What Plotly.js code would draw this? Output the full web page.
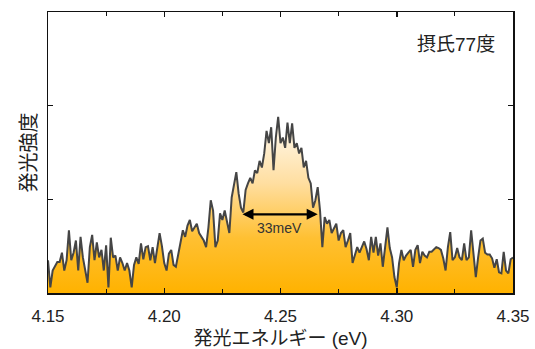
<!DOCTYPE html>
<html>
<head>
<meta charset="utf-8">
<script src="https://cdn.plot.ly/plotly-3.0.1.min.js"></script>
<style>html,body{margin:0;padding:0;background:#fff;}#chart{width:535px;height:349px;}</style>
</head>
<body>
<div id="chart"></div>
<script>
// Photon energy (eV), 1 meV steps from 4.150 to 4.350
const energyStart = 4.15;
const energyStep = 0.001;
// Emission intensity (arbitrary units)
const intensity = [
 0.35,0.06,0.24,0.28,0.33,0.33,0.43,0.24,0.35,0.67,
 0.35,0.43,0.56,0.24,0.60,0.38,0.24,0.11,0.49,0.62,
 0.35,0.54,0.38,0.46,0.24,0.51,0.06,0.59,0.38,0.40,
 0.24,0.38,0.32,0.24,0.32,0.24,0.06,0.30,0.38,0.31,
 0.53,0.36,0.49,0.50,0.35,0.49,0.32,0.49,0.64,0.50,
 0.32,0.24,0.42,0.46,0.30,0.28,0.40,0.55,0.67,0.60,
 0.72,0.78,0.66,0.70,0.74,0.64,0.60,0.56,0.49,0.70,
 0.99,0.88,0.49,0.56,0.85,0.78,0.88,0.74,0.64,1.02,
 1.17,1.29,1.06,0.91,0.86,1.10,1.17,1.23,1.17,1.31,
 1.28,1.41,1.34,1.49,1.73,1.60,1.77,1.31,1.66,1.88,
 1.60,1.66,1.55,1.82,1.60,1.81,1.55,1.60,1.49,1.55,
 1.34,1.41,1.23,1.17,0.91,0.99,1.13,0.88,0.49,0.81,
 0.74,0.78,0.64,0.70,0.74,0.56,0.64,0.67,0.49,0.56,
 0.64,0.32,0.40,0.49,0.43,0.49,0.55,0.47,0.35,0.60,
 0.43,0.60,0.40,0.53,0.28,0.49,0.70,0.48,0.38,0.17,
 0.06,0.32,0.46,0.35,0.40,0.43,0.46,0.28,0.46,0.51,
 0.32,0.44,0.40,0.38,0.44,0.44,0.46,0.49,0.48,0.46,
 0.37,0.24,0.49,0.65,0.35,0.38,0.48,0.38,0.35,0.53,
 0.35,0.38,0.67,0.38,0.17,0.38,0.56,0.58,0.43,0.41,
 0.41,0.37,0.27,0.36,0.22,0.21,0.44,0.24,0.21,0.36,
 0.38
];
const energy = intensity.map((_, i) => +(energyStart + i * energyStep).toFixed(3));

const xTickVals = [4.15, 4.20, 4.25, 4.30, 4.35];
const xTickText = ["4.15", "4.20", "4.25", "4.30", "4.35"];
const yTickVals = [1, 2];

// FWHM marker
const fwhmLeft = 4.233;
const fwhmRight = 4.266;
const fwhmLevel = 0.84;
const fwhmLabel = "33meV";
const tempLabel = "摂氏77度";

const FONT = "Liberation Sans, Arial, Noto Sans CJK JP, sans-serif";

const trace = {
  x: energy, y: intensity, type: 'scatter', mode: 'lines',
  line: {color: '#454545', width: 2},
  fill: 'tozeroy',
  fillgradient: {
    type: 'vertical', start: 0, stop: 1.95,
    colorscale: [[0, 'rgb(255,178,0)'], [0.3, 'rgb(255,192,50)'], [0.6, 'rgb(255,222,160)'], [1, 'rgb(255,255,255)']]
  },
  hoverinfo: 'skip'
};

const layout = {
  width: 535, height: 349,
  margin: {l: 48, r: 22, t: 12, b: 56},
  paper_bgcolor: '#fff', plot_bgcolor: '#fff',
  showlegend: false,
  font: {family: FONT, color: '#222'},
  xaxis: {
    range: [4.15, 4.35], tickmode: 'array', tickvals: xTickVals, ticktext: xTickText,
    ticks: 'inside', ticklen: 5, tickwidth: 1.5, tickcolor: '#111',
    minor: {dtick: 0.025, ticks: 'inside', ticklen: 4, tickwidth: 1.2, tickcolor: '#111'},
    showline: true, linecolor: '#111', linewidth: 1.5, mirror: 'allticks',
    showgrid: false, zeroline: false,
    ticklabelstandoff: 7,
    tickfont: {size: 17, family: FONT, color: '#222'},
    title: {text: '発光エネルギー (eV)', font: {size: 19, family: FONT, color: '#222'}, standoff: 12}
  },
  yaxis: {
    range: [0, 3], tickmode: 'array', tickvals: yTickVals, showticklabels: false,
    ticks: 'inside', ticklen: 5, tickwidth: 1.5, tickcolor: '#111',
    showline: true, linecolor: '#111', linewidth: 1.5, mirror: 'allticks',
    showgrid: false, zeroline: false,
    title: {text: '発光強度', font: {size: 20, family: FONT, color: '#222'}, standoff: 4}
  },
  annotations: [
    {x: fwhmRight, y: fwhmLevel, ax: fwhmLeft, ay: fwhmLevel, xref: 'x', yref: 'y', axref: 'x', ayref: 'y',
     text: '', showarrow: true, arrowhead: 2, startarrowhead: 2, arrowside: 'end+start',
     arrowsize: 1, arrowwidth: 2.2, arrowcolor: '#000'},
    {x: (fwhmLeft + fwhmRight) / 2, y: fwhmLevel, xref: 'x', yref: 'y', text: fwhmLabel, showarrow: false,
     yshift: -14, font: {size: 14, family: FONT, color: '#333'}},
    {x: 0.966, y: 0.883, xref: 'paper', yref: 'paper', xanchor: 'right', yanchor: 'middle',
     text: tempLabel, showarrow: false, font: {size: 19, family: FONT, color: '#222'}}
  ]
};

Plotly.newPlot('chart', [trace], layout, {staticPlot: true, displayModeBar: false});
</script>
</body>
</html>
